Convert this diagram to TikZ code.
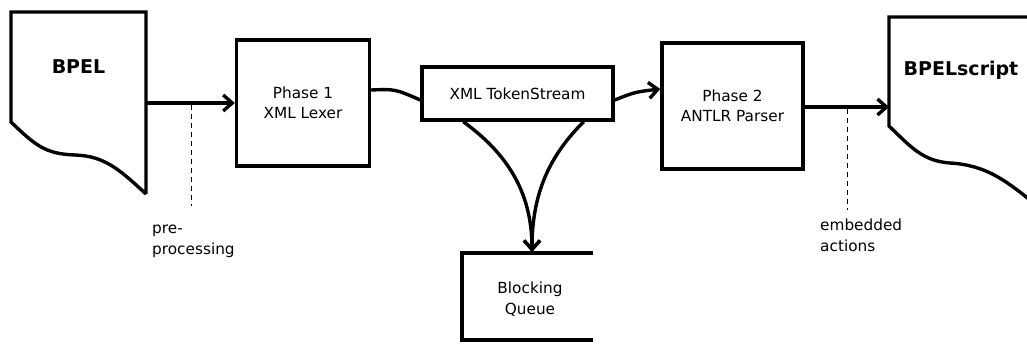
\documentclass[tikz,border=0pt]{standalone}
\usepackage{fontspec}
\setmainfont{DejaVu Sans}
\usetikzlibrary{arrows.meta}
\begin{document}
\begin{tikzpicture}[x=1pt,y=-1pt,
  every node/.style={font=\fontsize{15.3}{20.5}\selectfont},
  thick line/.style={line width=3.4pt},
  box/.style={draw, line width=3.4pt, rectangle, inner sep=0pt, align=center},
  arr/.style={line width=3.4pt, -{Straight Barb[length=9pt,width=16pt]}},
  doctitle/.style={font=\fontsize{19}{22}\selectfont\bfseries},
  dash line/.style={line width=0.9pt, dash pattern=on 5pt off 4pt},
  lbl/.style={align=left, inner sep=0pt}]
\useasboundingbox (0,0) rectangle (1027,343);
% BPEL document
\draw[thick line, line join=miter] (146,194) -- (146,12) -- (11,12) -- (11,122)
  .. controls (35,145) and (45,154) .. (75,155)
  .. controls (105,156) and (120,170) .. (146,194);
\node[doctitle] (bpel) at (78.5,67) {BPEL};
\coordinate (bpelout) at (146,103);
% Phase 1
\node[box, minimum width=133pt, minimum height=126pt] (p1) at (303,103) {Phase 1\\XML Lexer};
% TokenStream
\node[box, minimum width=191pt, minimum height=53pt] (ts) at (517.5,93.5) {XML TokenStream};
% Phase 2
\node[box, minimum width=141pt, minimum height=126pt] (p2) at (732.5,106) {Phase 2\\ANTLR Parser};
% BPELscript document
\draw[thick line, line join=miter] (1030,17) -- (889,17) -- (889,126)
  .. controls (910,146) and (922,161) .. (950,163)
  .. controls (985,165) and (1005,180) .. (1030,200);
\node[doctitle] (bs) at (961,70) {BPELscript};
\coordinate (bsin) at (889,107);
% Blocking Queue
\draw[thick line, line join=miter] (593,253) -- (462,253) -- (462,340) -- (593,340);
\node[align=center] (bq) at (530,299) {Blocking\\Queue};
\coordinate (bqtop) at (532,252);
% connectors
\draw[arr] (bpelout) -- (p1.west);
\draw[thick line] ([yshift=13pt]p1.east) .. controls (395,89) .. ([yshift=-6.5pt]ts.west);
\draw[arr] ([yshift=-6.5pt]ts.east) .. controls (635,92) .. ([yshift=17pt]p2.west);
\draw[arr] ([xshift=43pt]ts.south west) .. controls (505,152) and (532,190) .. (bqtop);
\draw[arr] ([xshift=-31pt]ts.south east) .. controls (545,160) and (532,200) .. (bqtop);
\draw[arr] ([yshift=-1pt]p2.east) -- (bsin);
% annotations
\coordinate (pp) at (191,105);
\coordinate (ea) at (847,109);
\draw[dash line] (pp) -- (191,206) coordinate (ppend);
\draw[dash line] (ea) -- (847,210) coordinate (eaend);
\node[lbl, anchor=north west] (pplbl) at (152,225) {pre-\\processing};
\node[lbl, anchor=north west] (ealbl) at (820,219) {embedded\\actions};
\end{tikzpicture}
\end{document}
